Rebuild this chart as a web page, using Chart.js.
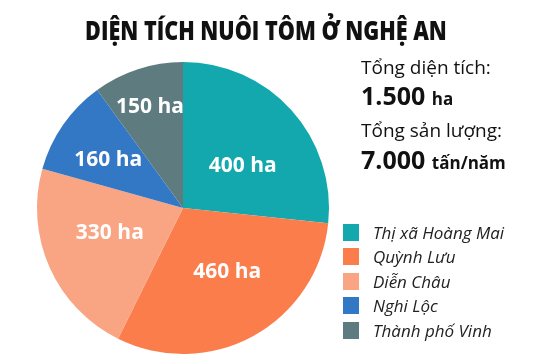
<!DOCTYPE html>
<html lang="vi">
<head>
    <meta charset="UTF-8">
    <title>Diện tích nuôi tôm ở Nghệ An</title>
    <script src="https://cdn.jsdelivr.net/npm/chart.js"></script>
    <style>
        body { margin: 0; background: #fff; }
        #wrap { position: relative; width: 540px; height: 360px; overflow: hidden; font-family: "Open Sans", sans-serif; }
        #wrap canvas { position: absolute; left: 0; top: 0; }
        .title { position: absolute; left: 0; width: 532px; top: 12px; text-align: center; font-weight: 800; font-size: 26px; color: #111; transform: scaleX(0.83); }
        .tot { position: absolute; left: 361px; color: #111; white-space: nowrap; }
        .lbl { font-size: 19px; }
        .big { font-size: 25px; font-weight: bold; }
        .big small { font-size: 17px; }
        #legend { position: absolute; left: 343px; top: 220px; }
        .row { display: flex; align-items: center; height: 24.5px; font-style: italic; font-size: 17px; color: #222; }
        .sw { width: 16px; height: 17px; margin-right: 14px; }
    </style>
</head>
<body>
<div id="wrap">
    <canvas id="pie" width="540" height="360"></canvas>
    <div class="title">DIỆN TÍCH NUÔI TÔM Ở NGHỆ AN</div>
    <div class="tot lbl" style="top:54px">Tổng diện tích:</div>
    <div class="tot big" style="top:78px">1.500 <small>ha</small></div>
    <div class="tot lbl" style="top:117px">Tổng sản lượng:</div>
    <div class="tot big" style="top:142px">7.000 <small>tấn/năm</small></div>
    <div id="legend"></div>
</div>
<script>
// du lieu
const areas = ['Thị xã Hoàng Mai', 'Quỳnh Lưu', 'Diễn Châu', 'Nghi Lộc', 'Thành phố Vinh'];
const hectares = [400, 460, 330, 160, 150];
const colors = ['#13a8ad', '#fb7d4c', '#f9a584', '#3278c5', '#5e7c80'];

// vi tri nhan: ti le ban kinh va goc lech (do)
const labelRadius = [0.50, 0.53, 0.53, 0.61, 0.73];
const labelTurn = [7, -6, 5, -2, 0];

// legend
const legend = document.getElementById('legend');
areas.forEach((name, i) => {
    legend.innerHTML += `<div class="row"><div class="sw" style="background:${colors[i]}"></div>${name}</div>`;
});

const sliceLabels = {
    id: 'sliceLabels',
    afterDatasetsDraw(chart) {
        const ctx = chart.ctx;
        const meta = chart.getDatasetMeta(0);
        ctx.save();
        ctx.fillStyle = '#fff';
        ctx.font = 'bold 21px "Open Sans", sans-serif';
        ctx.textAlign = 'center';
        ctx.textBaseline = 'middle';
        meta.data.forEach((arc, i) => {
            const mid = (arc.startAngle + arc.endAngle) / 2 + labelTurn[i] * Math.PI / 180;
            const r = arc.outerRadius * labelRadius[i];
            ctx.fillText(hectares[i] + ' ha', arc.x + Math.cos(mid) * r, arc.y + Math.sin(mid) * r);
        });
        ctx.restore();
    }
};

new Chart(document.getElementById('pie'), {
    type: 'pie',
    data: {
        labels: areas,
        datasets: [{
            data: hectares,
            backgroundColor: colors,
            borderWidth: 0
        }]
    },
    options: {
        responsive: false,
        animation: false,
        layout: { padding: { left: 37, top: 62, bottom: 6, right: 211 } },
        plugins: {
            legend: { display: false },
            tooltip: { enabled: false }
        }
    },
    plugins: [sliceLabels]
});
</script>
</body>
</html>
